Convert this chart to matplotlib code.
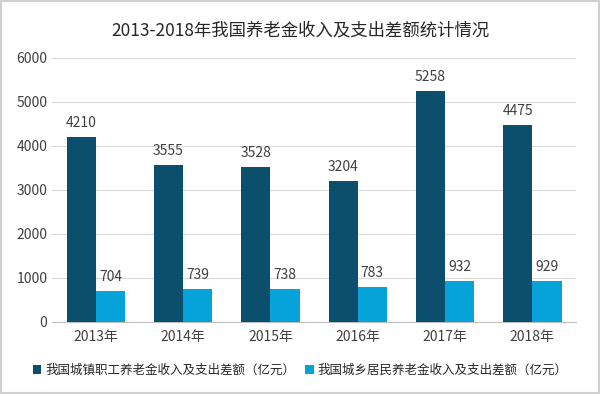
import matplotlib.pyplot as plt
import numpy as np

plt.rcParams['font.family'] = ['Noto Sans CJK SC', 'DejaVu Sans']

years = ['2013年', '2014年', '2015年', '2016年', '2017年', '2018年']
urban = [4210, 3555, 3528, 3204, 5258, 4475]
rural = [704, 739, 738, 783, 932, 929]
urban_label = '我国城镇职工养老金收入及支出差额（亿元）'
rural_label = '我国城乡居民养老金收入及支出差额（亿元）'

c_dark = '#0b4f6c'
c_light = '#06a3da'

fig = plt.figure(figsize=(6, 3.94), dpi=100)
ax = fig.add_axes([0.087, 0.183, 0.873, 0.67])

x = np.arange(len(years))
w = 0.335
b1 = ax.bar(x - w / 2, urban, w, color=c_dark, label=urban_label, zorder=3)
b2 = ax.bar(x + w / 2, rural, w, color=c_light, label=rural_label, zorder=3)

for bars in (b1, b2):
    for r in bars:
        ax.text(r.get_x() + r.get_width() / 2, r.get_height() + 160, str(int(r.get_height())),
                ha='center', va='bottom', fontsize=10, color='#404040')

ax.set_ylim(0, 6000)
ax.set_xlim(-0.5, len(years) - 0.5)
ax.set_yticks(range(0, 6001, 1000))
ax.set_xticks(x)
ax.set_xticklabels(years)
ax.tick_params(axis='both', length=0, labelsize=10, colors='#404040')
ax.tick_params(axis='x', pad=6)
ax.grid(axis='y', color='#d9d9d9', linewidth=0.8, zorder=0)
for s in ['top', 'right', 'left']:
    ax.spines[s].set_visible(False)
ax.spines['bottom'].set_color('#bfbfbf')

fig.suptitle('2013-2018年我国养老金收入及支出差额统计情况', y=0.945, fontsize=12.5, color='#262626')
fig.legend(loc='lower center', bbox_to_anchor=(0.5, 0.015), ncol=2, frameon=False,
           fontsize=9, handlelength=0.7, handleheight=0.7, handletextpad=0.3, columnspacing=0.8,
           labelcolor='#262626')

fig.patches.append(plt.Rectangle((0.002, 0.002), 0.996, 0.996, transform=fig.transFigure,
                                 fill=False, edgecolor='#d0d0d0', linewidth=1.5))

fig.savefig('out.png', dpi=100)
